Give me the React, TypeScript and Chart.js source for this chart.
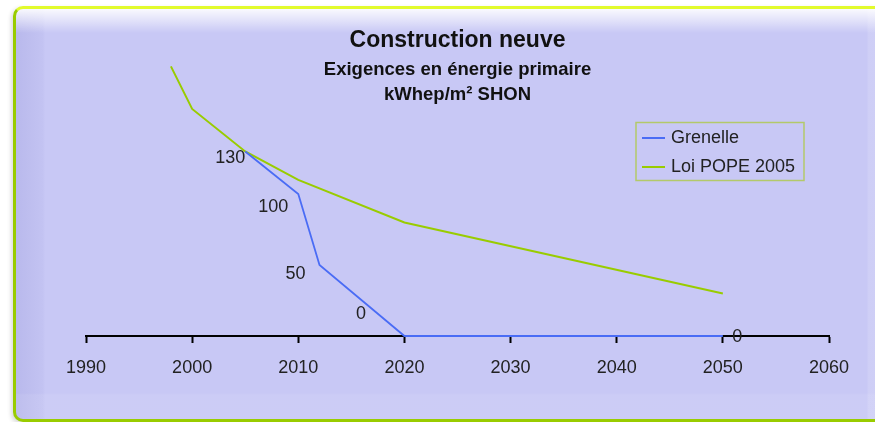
import React, { useEffect, useRef } from "react";
import { Chart, registerables } from "chart.js";

Chart.register(...registerables);

// ---- data ----
const titleText = "Construction neuve";
const subtitleLines = ["Exigences en énergie primaire", "kWhep/m² SHON"];
const seriesNames = ["Grenelle", "Loi POPE 2005"];
const grenelleYears = [2005, 2010, 2012, 2020, 2050];
const grenelleValues = [130, 100, 50, 0, 0];
const popeYears = [1998, 2000, 2005, 2010, 2020, 2050];
const popeValues = [190, 160, 130, 110, 80, 30];
const xMin = 1990;
const xMax = 2060;
const xStep = 10;

// ---- styles ----
const FONT = "'Liberation Sans', Arial, sans-serif";
const colors = ["#4a6cf5", "#99cc00"];
const grenelleLabelOffsets: [number, number][] = [
  [-15, 6.5],
  [-25, 12.5],
  [-24, 9.3],
  [-43.5, -22],
  [14.5, 1.3],
];

const labelPlugin = {
  id: "valueLabels",
  afterDatasetsDraw(chart: any) {
    const ctx = chart.ctx;
    const meta = chart.getDatasetMeta(0);
    const ds = chart.data.datasets[0];
    ctx.save();
    ctx.font = `18px ${FONT}`;
    ctx.fillStyle = "#222";
    ctx.textAlign = "center";
    ctx.textBaseline = "middle";
    meta.data.forEach((el: any, i: number) => {
      const off = grenelleLabelOffsets[i] || [0, 0];
      ctx.fillText(String(ds.data[i].y), el.x + off[0], el.y + off[1]);
    });
    ctx.restore();
  },
};

const legendBox = { x: 636, y: 122.5, w: 168, h: 58, rowY: [138, 167], lineX0: 642, lineX1: 665, textX: 671 };

const legendPlugin = {
  id: "boxedLegend",
  afterDraw(chart: any) {
    const ctx = chart.ctx;
    ctx.save();
    ctx.strokeStyle = "#b3c96a";
    ctx.lineWidth = 1.5;
    ctx.strokeRect(legendBox.x, legendBox.y, legendBox.w, legendBox.h);
    ctx.font = `18px ${FONT}`;
    ctx.textAlign = "left";
    ctx.textBaseline = "middle";
    chart.data.datasets.forEach((ds: any, i: number) => {
      const y = legendBox.rowY[i];
      ctx.strokeStyle = ds.borderColor;
      ctx.lineWidth = 2;
      ctx.beginPath();
      ctx.moveTo(legendBox.lineX0, y);
      ctx.lineTo(legendBox.lineX1, y);
      ctx.stroke();
      ctx.fillStyle = "#222";
      ctx.fillText(ds.label, legendBox.textX, y);
    });
    ctx.restore();
  },
};

export default function App() {
  const ref = useRef<HTMLCanvasElement>(null);

  useEffect(() => {
    const chart = new Chart(ref.current as HTMLCanvasElement, {
      type: "line",
      data: {
        datasets: [
          {
            label: seriesNames[0],
            data: grenelleYears.map((x, i) => ({ x, y: grenelleValues[i] })),
            borderColor: colors[0],
            backgroundColor: colors[0],
            borderWidth: 1.8,
            pointRadius: 0,
            tension: 0,
            clip: false as any,
          },
          {
            label: seriesNames[1],
            data: popeYears.map((x, i) => ({ x, y: popeValues[i] })),
            borderColor: colors[1],
            backgroundColor: colors[1],
            borderWidth: 2,
            pointRadius: 0,
            tension: 0,
            clip: false as any,
          },
        ],
      },
      options: {
        responsive: false,
        animation: false,
        layout: { padding: { left: 86, right: 46, top: 0, bottom: 29.4 } },
        plugins: {
          legend: { display: false },
          tooltip: { enabled: false },
          title: {
            display: true,
            text: titleText,
            color: "#111",
            font: { family: FONT, size: 23, weight: "bold", lineHeight: 1.2 },
            padding: { top: 26.7, bottom: 2.7 },
          },
          subtitle: {
            display: true,
            text: subtitleLines,
            color: "#111",
            font: { family: FONT, size: 18.5, weight: "bold", lineHeight: 1.351 },
            padding: { top: 0, bottom: 0.5 },
          },
        },
        scales: {
          x: {
            type: "linear",
            min: xMin,
            max: xMax,
            ticks: {
              stepSize: xStep,
              padding: 14,
              color: "#222",
              font: { family: FONT, size: 18 },
              maxRotation: 0,
              autoSkip: false,
              callback: (v: any) => String(v),
            },
            grid: {
              drawOnChartArea: false,
              drawTicks: true,
              tickLength: 7,
              tickColor: "#000",
              tickWidth: 2,
            },
            border: { display: true, color: "#000", width: 2 },
          },
          y: { display: false, min: 0, max: 161 },
        },
      },
      plugins: [labelPlugin, legendPlugin],
    } as any);
    return () => chart.destroy();
  }, []);

  return (
    <div style={{ position: "fixed", left: 0, top: 0, width: 875, height: 422, overflow: "hidden", background: "#fff" }}>
      <div
        style={{
          position: "absolute",
          left: 13,
          top: 6,
          width: 900,
          height: 416,
          boxSizing: "border-box",
          borderStyle: "solid",
          borderWidth: 3,
          borderColor: "#e2fb2c #99cc00 #99cc00 #99cc00",
          borderRadius: 10,
          boxShadow: "-2px 2px 4px rgba(0,0,0,0.15)",
          background:
            "linear-gradient(to bottom, rgba(255,255,255,0.9) 0px, rgba(255,255,255,0) 24px), " +
            "linear-gradient(to bottom, rgba(255,255,255,0) 384px, rgba(255,255,255,0.08) 386px), " +
            "linear-gradient(to right, rgba(255,255,255,0) 851px, rgba(255,255,255,0.12) 852px), " +
            "linear-gradient(to right, #b9b9ec 0px, #c3c3f2 27px, #c8c8f5 29px), #c8c8f5",
        }}
      />
      <canvas ref={ref} width={875} height={422} style={{ position: "absolute", left: 0, top: 0 }} />
    </div>
  );
}
